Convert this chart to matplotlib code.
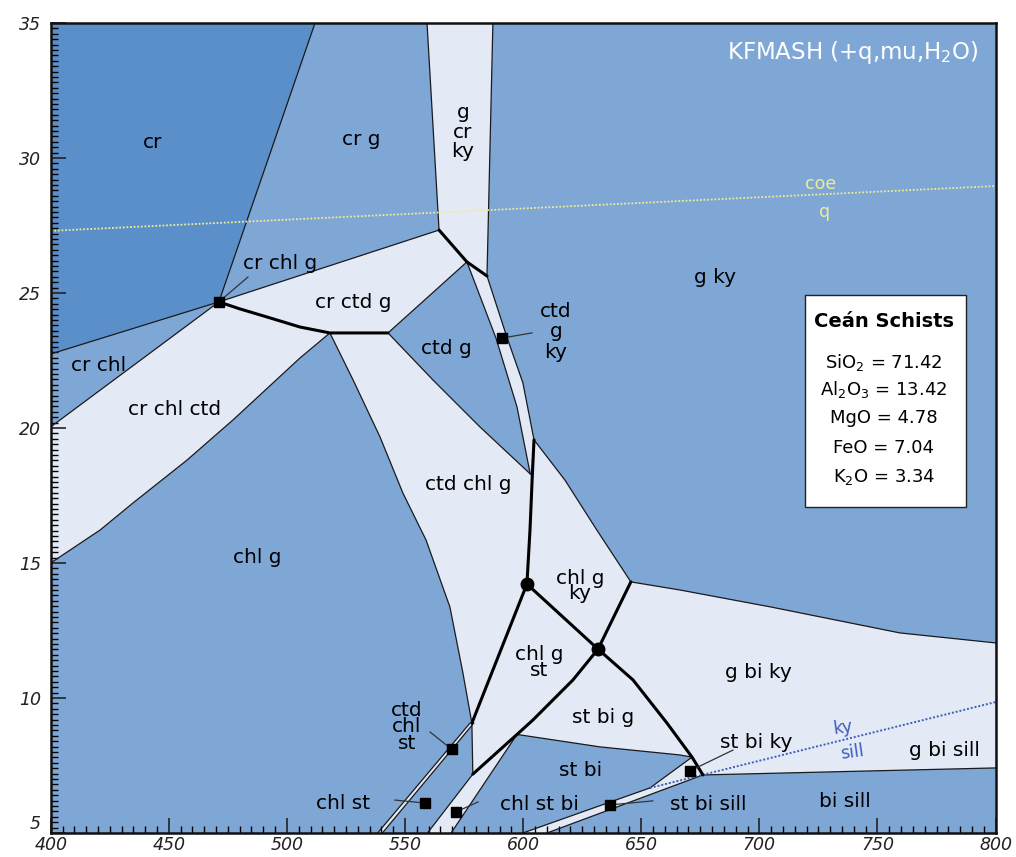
import matplotlib
matplotlib.use("Agg")
import matplotlib.pyplot as plt
import matplotlib.transforms as mtransforms
from matplotlib.patches import Rectangle

# ---- phase boundaries, T (deg C) vs P (kbar) ----
inv_crchlg = (471.2, 24.67)
inv_dot1 = (601.6, 14.22)
inv_dot2 = (631.7, 11.81)
inv_J1 = (578.3, 9.07)
inv_J2 = (578.7, 7.18)

cr_crg = [(511.9, 35.0), inv_crchlg]
cr_crchl = [(400.0, 22.74), inv_crchlg]
crchl_crchlctd = [(400.0, 20.04), inv_crchlg]
crg_crctdg = [inv_crchlg, (564.4, 27.33)]
gcrky_left = [(559.3, 35.0), (564.4, 27.33)]
gcrky_right = [(587.2, 35.0), (584.7, 25.63)]
thick_top = [(564.4, 27.33), (576.2, 26.15), (584.7, 25.63)]
crctdg_ctdg = [(576.2, 26.15), (542.8, 23.52)]
arc_ctd_in = [inv_crchlg, (480.1, 24.41), (491.6, 24.11), (505.5, 23.74),
              (518.2, 23.52), (542.8, 23.52)]
band_left = [(576.2, 26.15), (588.5, 23.33), (597.4, 20.78), (603.0, 18.30)]
band_right = [(584.7, 25.63), (593.1, 23.37), (599.9, 21.67), (604.6, 19.56)]
ctdg_ctdchlg = [(542.8, 23.52), (561.8, 21.78), (581.7, 20.04), (603.0, 18.30)]
crchlctd_chlg = [(518.2, 23.52), (505.5, 22.59), (477.2, 20.30), (457.7, 18.81),
                 (434.8, 17.22), (420.9, 16.22), (400.0, 15.00)]
chlg_ctdchlg = [(518.2, 23.52), (528.0, 21.78), (539.4, 19.67), (549.1, 17.59),
                (558.9, 15.85), (569.0, 13.37), (574.5, 10.93), inv_J1]
chlgst_chlst = [inv_J1, inv_J2]
thick_vert = [(604.6, 19.56), (603.8, 18.07), (602.9, 16.22), inv_dot1]
chlgky_gky = [(604.6, 19.56), (617.7, 18.07), (631.2, 16.22), (645.6, 14.30)]
gbiky_top = [(645.6, 14.30), (666.4, 14.00), (704.9, 13.37), (759.5, 12.41), (800.0, 12.04)]
dot1_J1 = [inv_dot1, inv_J1]
dot1_dot2 = [inv_dot1, inv_dot2]
top_dot2 = [(645.6, 14.30), inv_dot2]
dot2_J2 = [inv_dot2, (621.1, 10.67), (604.2, 9.19), (597.4, 8.65), inv_J2]
dot2_I = [inv_dot2, (646.5, 10.67), (660.9, 9.07), (671.5, 7.81), (676.1, 7.15)]
stbig_stbi = [(597.4, 8.65), (632.5, 8.19), (666.4, 7.89), (671.5, 7.81)]
stbiky_edge = [(671.5, 7.81), (653.7, 6.67)]
stbisill_upper = [(653.7, 6.67), (599.9, 5.0)]
stbisill_lower = [(676.1, 7.15), (610.1, 5.0)]
chlstbi_left = [inv_J2, (559.5, 5.0)]
chlstbi_right = [(597.4, 8.65), (569.5, 5.0)]
ctdchlst_left = [(577.5, 9.07), (538.4, 5.0)]
ctdchlst_right = [(579.1, 9.07), (540.4, 5.0)]
gbisill_bisill = [(676.1, 7.15), (800.0, 7.41)]
ky_sill = [(653.7, 6.67), (800.0, 9.85)]
coe_q = [(400.0, 27.30), (800.0, 28.96)]

cr_field = [(400.0, 35.0), (511.9, 35.0), inv_crchlg, (400.0, 22.74)]

# thin assemblages marked with a square, and the leader start points
squares = [inv_crchlg, (591.0, 23.33), (569.8, 8.10), (558.4, 6.11),
           (571.6, 5.78), (636.7, 6.04), (670.6, 7.30)]
leader_from = [(483.5, 25.59), (603.7, 23.52), (560.6, 8.74), (545.7, 6.22),
               (580.9, 6.15), (654.9, 6.19), (688.8, 8.07)]
dots = [inv_dot1, inv_dot2]

field_names = ["cr", "cr g", "g\ncr\nky", "cr chl g", "cr ctd g", "cr chl", "cr chl ctd",
               "ctd g", "ctd\ng\nky", "g ky", "ctd chl g", "chl g", "chl g\nky",
               "chl g\nst", "st bi g", "ctd\nchl\nst", "chl st", "st bi", "chl st bi",
               "st bi sill", "st bi ky", "bi sill", "g bi sill", "g bi ky"]
field_T = [443.3, 531.3, 574.5, 497.1, 528.0, 420.4, 452.6,
           567.7, 613.9, 681.2, 576.6, 487.3, 624.0,
           606.7, 633.8, 550.8, 523.7, 624.5, 607.1,
           678.2, 698.6, 736.2, 778.5, 699.4]
field_P = [30.56, 30.67, 30.96, 26.11, 24.63, 22.33, 20.67,
           22.96, 23.56, 25.59, 17.89, 15.19, 14.15,
           11.30, 9.26, 8.93, 6.11, 7.33, 6.04,
           6.04, 8.37, 6.15, 8.07, 10.96]
field_spacing = {"g\ncr\nky": 1.05, "ctd\ng\nky": 1.1, "chl g\nky": 0.75,
                 "chl g\nst": 0.8, "ctd\nchl\nst": 0.85}

oxides = ["SiO$_2$", "Al$_2$O$_3$", "MgO", "FeO", "K$_2$O"]
wt_pct = [71.42, 13.42, 4.78, 7.04, 3.34]
oxide_P = [22.44, 21.41, 20.37, 19.26, 18.19]

MED = "#7fa7d6"
DARK = "#5b8fca"
LIGHT = "#e4e9f6"


def xs(pts):
    return [p[0] for p in pts]


def ys(pts):
    return [p[1] for p in pts]


rev = lambda pts: list(reversed(pts))

light_fields = [
    [(400.0, 20.04)] + arc_ctd_in[:5] + crchlctd_chlg[1:],
    crg_crctdg + thick_top[1:2] + crctdg_ctdg[1:] + rev(arc_ctd_in)[1:-1],
    gcrky_left + thick_top[1:] + rev(gcrky_right),
    band_left + rev(band_right),
    arc_ctd_in[4:] + ctdg_ctdchlg[1:] + thick_vert[1:] + [inv_J1] + rev(chlg_ctdchlg)[1:-1],
    chlgky_gky + [inv_dot2] + rev(thick_vert),
    [inv_dot1, inv_dot2] + dot2_J2[1:] + [inv_J1],
    dot2_I[:4] + rev(stbig_stbi)[1:] + rev(dot2_J2[1:3]),
    gbiky_top + rev(gbisill_bisill) + rev(stbiky_edge) + rev(dot2_I[:3]),
    [(653.7, 6.67), (676.1, 7.15), (610.1, 5.0), (599.9, 5.0)],
    [inv_J2, (597.4, 8.65), (569.5, 5.0), (559.5, 5.0)],
    ctdchlst_left + rev(ctdchlst_right),
]

thin_lines = [cr_crg, cr_crchl, crchl_crchlctd, crg_crctdg, gcrky_left, gcrky_right,
              crctdg_ctdg, band_left, band_right, ctdg_ctdchlg, crchlctd_chlg,
              chlg_ctdchlg, chlgst_chlst, chlgky_gky, gbiky_top, stbig_stbi,
              stbiky_edge, stbisill_upper, stbisill_lower, chlstbi_left,
              chlstbi_right, ctdchlst_left, ctdchlst_right, gbisill_bisill]
thick_lines = [arc_ctd_in, thick_top, thick_vert, dot1_J1, dot1_dot2, top_dot2,
               dot2_J2, dot2_I]

plt.rcParams["font.family"] = ["DejaVu Sans"]
fig = plt.figure(figsize=(10.16, 8.57), dpi=100)
ax = fig.add_axes([0.0499, 0.028, 0.930, 0.9452])
ax.set_facecolor(MED)

ax.fill(xs(cr_field), ys(cr_field), color=DARK, lw=0, zorder=1)
for poly in light_fields:
    ax.fill(xs(poly), ys(poly), color=LIGHT, lw=0, zorder=1)

for ln in thin_lines:
    ax.plot(xs(ln), ys(ln), color="#1a1a1a", lw=0.9, zorder=3)
for ln in thick_lines:
    ax.plot(xs(ln), ys(ln), color="black", lw=2.2, zorder=4, solid_capstyle="round")

ax.plot(xs(ky_sill), ys(ky_sill), color="#3d5fbd", lw=1.4, ls=(0, (1, 1)), zorder=3)
ax.plot(xs(coe_q), ys(coe_q), color="#eeeb95", lw=1.3, ls=(0, (1, 1)), zorder=3)

for (t0, p0), (t1, p1) in zip(leader_from, squares):
    ax.plot([t0, t1], [p0, p1], color="#333333", lw=0.9, zorder=5)
ax.plot(xs(squares), ys(squares), ls="none", marker="s", ms=6.5, color="black", zorder=6)
ax.plot(xs(dots), ys(dots), ls="none", marker="o", ms=9, color="black", zorder=6)

for name, t, p in zip(field_names, field_T, field_P):
    ax.text(t, p, name, ha="center", va="center", fontsize=14.5, color="black",
            linespacing=field_spacing.get(name, 1.0), zorder=7)

ax.text(726.1, 29.04, "coe", ha="center", va="center", fontsize=12.5, color="#eeeb95", zorder=7)
ax.text(727.4, 28.0, "q", ha="center", va="center", fontsize=12.5, color="#eeeb95", zorder=7)
ax.text(735.4, 8.89, "ky", ha="center", va="center", fontsize=12.5, color="#3d5fbd",
        rotation=8, zorder=7)
ax.text(739.2, 8.0, "sill", ha="center", va="center", fontsize=12.5, color="#3d5fbd",
        rotation=8, zorder=7)

ax.text(739.6, 33.89, "KFMASH (+q,mu,H$_2$O)", ha="center", va="center",
        fontsize=16.5, color="white", zorder=7)

# bulk composition box
ax.add_patch(Rectangle((719.3, 17.07), 68.2, 7.86, facecolor="white",
                       edgecolor="#222222", lw=1.0, zorder=8))
ax.text(752.7, 23.93, "Ceán Schists", ha="center", va="center", fontsize=14,
        fontweight="bold", zorder=9)
for ox, val, p in zip(oxides, wt_pct, oxide_P):
    ax.text(752.7, p, f"{ox} = {val:.2f}", ha="center", va="center", fontsize=13, zorder=9)

ax.set_xlim(400, 800)
ax.set_ylim(5, 35)
ax.set_xticks(range(400, 801, 50))
ax.set_xticks(range(400, 801, 5), minor=True)
ax.set_yticks(range(5, 36, 5))
ax.set_yticks([5 + 0.2 * i for i in range(151)], minor=True)
ax.tick_params(which="major", direction="in", length=11, width=1.2, labelsize=12.5,
               colors="#222222", top=False, right=False)
ax.tick_params(which="minor", direction="in", length=5, width=1.0, top=False, right=False)
ax.tick_params(axis="x", pad=2)
ax.tick_params(axis="y", pad=7)
for lbl in ax.get_xticklabels() + ax.get_yticklabels():
    lbl.set_fontstyle("italic")
for sp in ax.spines.values():
    sp.set_linewidth(1.8)
    sp.set_color("#111111")
    sp.set_zorder(10)

# lift the lowest pressure label clear of the temperature labels
lowest = ax.get_yticklabels()[0]
lowest.set_transform(lowest.get_transform() +
                     mtransforms.ScaledTranslation(0, 8 / 72, fig.dpi_scale_trans))

fig.savefig("out.png", dpi=100, facecolor="white")
